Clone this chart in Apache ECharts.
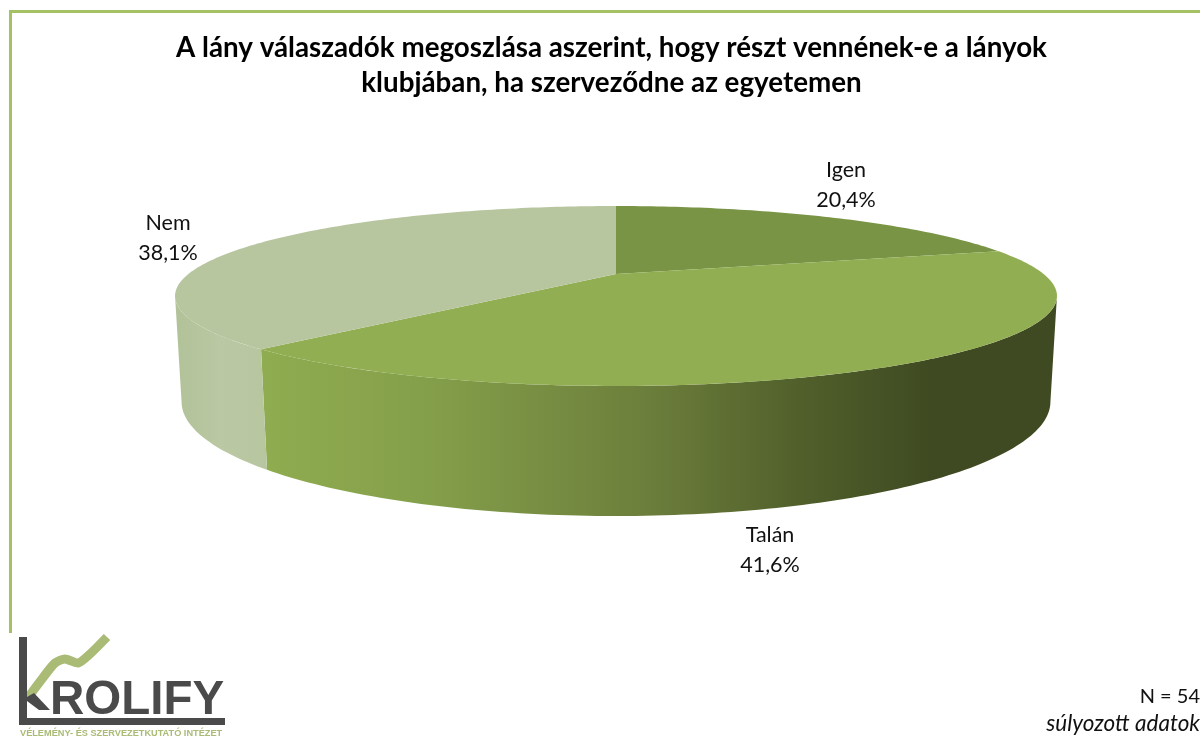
<!DOCTYPE html>
<html>
<head>
<meta charset="utf-8">
<style>html,body{margin:0;padding:0;background:#fff}#c{width:1200px;height:737px}</style>
<script src="https://cdn.jsdelivr.net/npm/echarts@6/dist/echarts.min.js"></script>
</head>
<body>
<div id="c"></div>
<script>
const categories = ['Igen', 'Talán', 'Nem'];
const values = [20.4, 41.6, 38.1];
const titleLines = ['A lány válaszadók megoszlása aszerint, hogy részt vennének-e a lányok', 'klubjában, ha szerveződne az egyetemen'];
const noteLines = ['N = 54', 'súlyozott adatok'];

const topColors = ['#7A9445', '#92AE53', '#B8C6A0'];
const wallStops = [
  [{offset:0,color:'#7A9445'},{offset:1,color:'#7A9445'}],
  [{offset:0,color:'#90AC50'},{offset:0.25,color:'#849F4A'},{offset:0.57,color:'#6D7F3C'},{offset:0.82,color:'#4F5E2A'},{offset:1,color:'#3F4A22'}],
  [{offset:0,color:'#B2C299'},{offset:0.45,color:'#BAC8A3'},{offset:1,color:'#B8C6A0'}]
];
const wallGradientX = [[0,1],[262,930],[180,268]];
const labelAnchors = [[846,185],[770,550],[168,238]];

// Perspective projection of the pie's discs
const CX=616, CY=274, A=427.6, B=84.6, P=0.2444, D=101.7, Q=0.0142;
const VISIBLE_FROM=104, VISIBLE_TO=256, STEP=1;
const total = values.reduce((a,b)=>a+b,0);
function proj(deg, bottom){
  const t=deg*Math.PI/180, u=Math.sin(t), v=-Math.cos(t);
  const w=1/(1-P*v+(bottom?Q:0));
  return [CX+A*u*w, CY+(B*v+(bottom?D:0))*w];
}
function arc(a0,a1,bottom){
  const pts=[], n=Math.max(1,Math.ceil(Math.abs(a1-a0)/STEP));
  for(let i=0;i<=n;i++) pts.push(proj(a0+(a1-a0)*i/n,bottom));
  return pts;
}
function span(i){
  let s=0; for(let k=0;k<i;k++) s+=values[k];
  return [s/total*360,(s+values[i])/total*360];
}
function wallItem(params,api){
  const i=params.dataIndex, [a0,a1]=span(i);
  const from=Math.max(a0,VISIBLE_FROM), to=Math.min(a1,VISIBLE_TO);
  if(to<=from) return {type:'group',children:[]};
  const pts=arc(from,to,false).concat(arc(to,from,true));
  return {type:'polygon',shape:{points:pts},style:{
    fill:{type:'linear',x:wallGradientX[i][0],y:0,x2:wallGradientX[i][1],y2:0,global:true,colorStops:wallStops[i]}}};
}
function topItem(params,api){
  const i=params.dataIndex, [a0,a1]=span(i);
  const pts=[[CX,CY]].concat(arc(a0,a1,false));
  return {type:'polygon',shape:{points:pts},style:{fill:topColors[i]}};
}
function labelItem(params,api){
  const i=params.dataIndex, val=api.value(0);
  return {type:'text',style:{
    text:categories[i]+'\n'+val.toFixed(1).replace('.',',')+'%',
    x:labelAnchors[i][0],y:labelAnchors[i][1],align:'center',verticalAlign:'middle',
    font:'21.5px Lato, "Open Sans", sans-serif',lineHeight:29.5,fill:'#111'}};
}
const seriesData=values.map((v,i)=>({name:categories[i],value:[v]}));
function customSeries(fn,z){return {type:'custom',coordinateSystem:'none',renderItem:fn,data:seriesData,z:z,silent:true,animation:false};}

const chart=echarts.init(document.getElementById('c'),null,{renderer:'canvas'});
const DARK='#4B4A4A', LOGO_GREEN='#A9BB75', FRAME='#A4C263';
chart.setOption({
  animation:false,
  backgroundColor:'#fff',
  title:{text:titleLines.join('\n'),left:606.5,top:26,textAlign:'center',
    textStyle:{fontFamily:'Lato, sans-serif',fontWeight:'bold',fontSize:27.75,lineHeight:35,color:'#000'}},
  series:[customSeries(wallItem,1),customSeries(topItem,2),customSeries(labelItem,3)],
  graphic:{elements:[
    {type:'polyline',silent:true,shape:{points:[[10.5,633],[10.5,11.5],[1200,11.5]]},style:{stroke:FRAME,lineWidth:3,fill:'none'}},
    {type:'polyline',silent:true,z:10,shape:{smooth:0.25,points:[[27,699],[42,679],[55,663],[65,659],[78,663],[90,654],[107,637]]},style:{stroke:LOGO_GREEN,lineWidth:9,fill:'none',lineJoin:'round'}},
    {type:'rect',silent:true,z:11,shape:{x:19,y:637,width:8,height:88},style:{fill:DARK}},
    {type:'rect',silent:true,z:11,shape:{x:19,y:718,width:206,height:7},style:{fill:DARK}},
    {type:'polygon',silent:true,z:11,shape:{points:[[27,697],[34,693],[50,710],[39,710],[27,701]]},style:{fill:DARK}},
    {type:'text',silent:true,z:11,style:{text:'ROLIFY',x:50,y:677,font:'bold 47.5px "Liberation Sans", Arial, sans-serif',fill:DARK,verticalAlign:'top'}},
    {type:'text',silent:true,z:11,style:{text:'VÉLEMÉNY- ÉS SZERVEZETKUTATÓ INTÉZET',x:20,y:733,font:'bold 9.2px "Liberation Sans", Arial, sans-serif',fill:LOGO_GREEN,verticalAlign:'middle'}},
    {type:'text',silent:true,style:{text:noteLines[0],x:1200,y:697,align:'right',verticalAlign:'middle',font:'20px Lato, sans-serif',fill:'#111'}},
    {type:'text',silent:true,style:{text:noteLines[1],x:1200,y:724,align:'right',verticalAlign:'middle',font:'italic 22.5px Lato, sans-serif',fill:'#111'}}
  ]}
});
</script>
</body>
</html>
